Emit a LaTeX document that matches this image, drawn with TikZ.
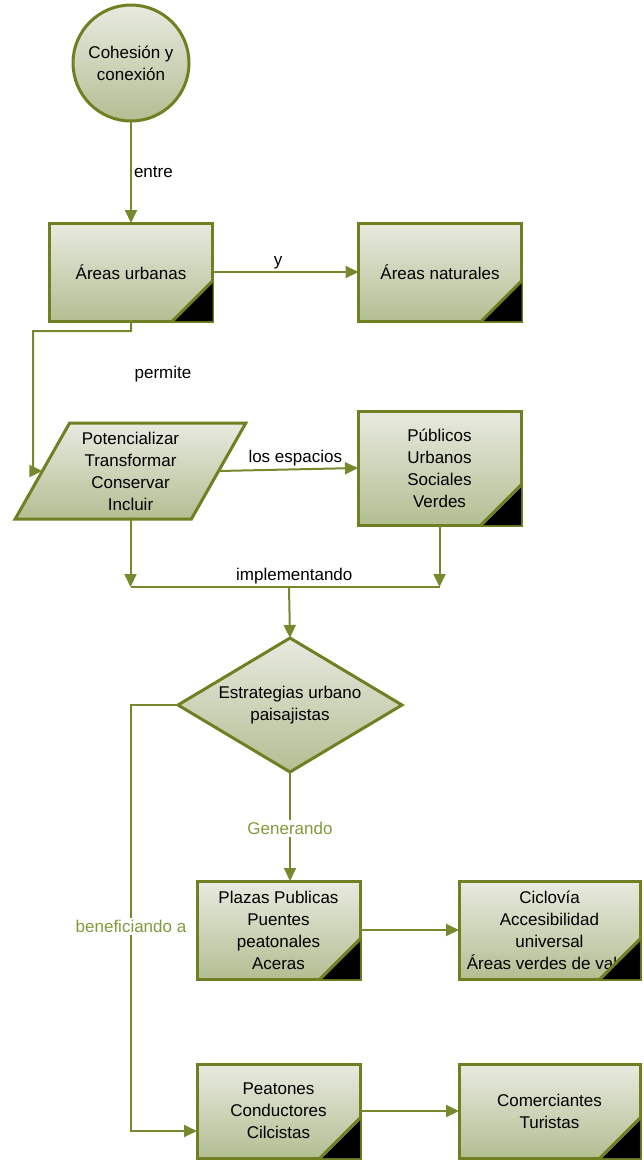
\documentclass[tikz,border=0pt]{standalone}
\usepackage{fontspec}
\setmainfont{Liberation Sans}
\usepackage{tikz}
\usetikzlibrary{positioning,shapes.geometric,arrows.meta}
\definecolor{edge}{HTML}{6F7F22}
\definecolor{wire}{HTML}{76892D}
\definecolor{boxtop}{HTML}{E8EAE0}
\definecolor{boxbot}{HTML}{B3BE92}
\definecolor{tagtext}{HTML}{809B3C}
% black folded corner, drawn after the node so it hides text under it
\newcommand{\dogear}[1]{%
  \fill[black, shift={(-1.5,-1.5)}] (#1.south east) -- ++(-38,0) -- ++(38,-38) -- cycle;
  \draw[edge, line width=3pt] (#1.south east) ++(-40,0) -- ++(40,-40);}

\begin{document}
\begin{tikzpicture}[
  x=1pt, y=-1pt,
  font=\fontsize{17}{22}\selectfont,
  shade/.style={draw=edge, line width=3pt, outer sep=0pt, top color=boxtop, bottom color=boxbot, align=center},
  box/.style={shade, minimum width=163pt, minimum height=98pt, inner sep=2pt},
  widebox/.style={box, minimum width=181pt},
  start/.style={shade, circle, minimum size=116pt, inner sep=0pt},
  para/.style={shade, trapezium, trapezium left angle=61, trapezium right angle=119, trapezium stretches=true, minimum width=231pt, minimum height=96pt, inner sep=0pt},
  choice/.style={shade, diamond, aspect=1.7, minimum width=224pt, minimum height=134pt, inner sep=0pt},
  arr/.style={-{Triangle[length=13pt,width=12pt]}, wire, line width=2pt},
  lbl/.style={inner sep=2pt, text=black},
  tag/.style={inner sep=2pt, text=tagtext, fill=white},
]
\useasboundingbox (0,0) rectangle (644,1160);

% top
\node[start] (cohe) at (131,63) {Cohesión y\\conexión};
\node[box] (urb) at (131,272) {Áreas urbanas};
\node[box, right=146pt of urb] (nat) {Áreas naturales};

\draw[arr] (cohe) -- node[lbl, right] {entre} (urb);
\draw[arr] (urb) -- node[lbl, above, pos=0.45] {y} (nat);

% actions
\node[para] (accion) at (130.5,471) {Potencializar\\Transformar\\Conservar\\Incluir};
\node[box, minimum height=114pt] (pub) at (439.5,468) {Públicos\\Urbanos\\Sociales\\Verdes};
\node[lbl] (permite) at (163,374) {permite};

\coordinate (bendA) at (33,471);
\draw[arr] (urb.south) -- ++(0,10) -| (bendA) -- (accion.west);
\draw[arr] (accion.east) -- node[lbl, above, pos=0.55] {los espacios} (pub.west);

% join
\coordinate (join) at (289,587);
\draw[arr] (accion.south) -- (accion.south |- join);
\draw[arr] (pub.south) -- (pub.south |- join);
\draw[wire, line width=2pt] (accion.south |- join) -- node[lbl, above, pos=0.53] {implementando} (pub.south |- join);

% strategies
\node[choice] (estr) at (290,705) {Estrategias urbano\\paisajistas};
\draw[arr] (join) -- (estr.north);

\node[box] (plazas) at (278.5,930) {Plazas Publicas\\Puentes\\peatonales\\Aceras};
\node[widebox, right=99pt of plazas] (ciclo) {Ciclovía\\Accesibilidad\\universal\\Áreas verdes de valor};
\node[box, minimum height=94pt] (peat) at (278.5,1111) {Peatones\\Conductores\\Cilcistas};
\node[widebox, minimum height=94pt, right=99pt of peat] (comer) {Comerciantes\\Turistas};

\draw[arr] (estr.south) -- node[tag, pos=0.52] {Generando} (estr.south |- plazas.north);
\coordinate (bendB) at (131,1131);
\draw[arr] (estr.west) -- (estr.west -| bendB) -- node[tag, pos=0.52] {beneficiando a} (bendB) -- (peat.west |- bendB);
\draw[arr] (plazas) -- (ciclo);
\draw[arr] (peat) -- (comer);

% corners
\dogear{urb}
\dogear{nat}
\dogear{pub}
\dogear{plazas}
\dogear{ciclo}
\dogear{peat}
\dogear{comer}

\end{tikzpicture}
\end{document}
